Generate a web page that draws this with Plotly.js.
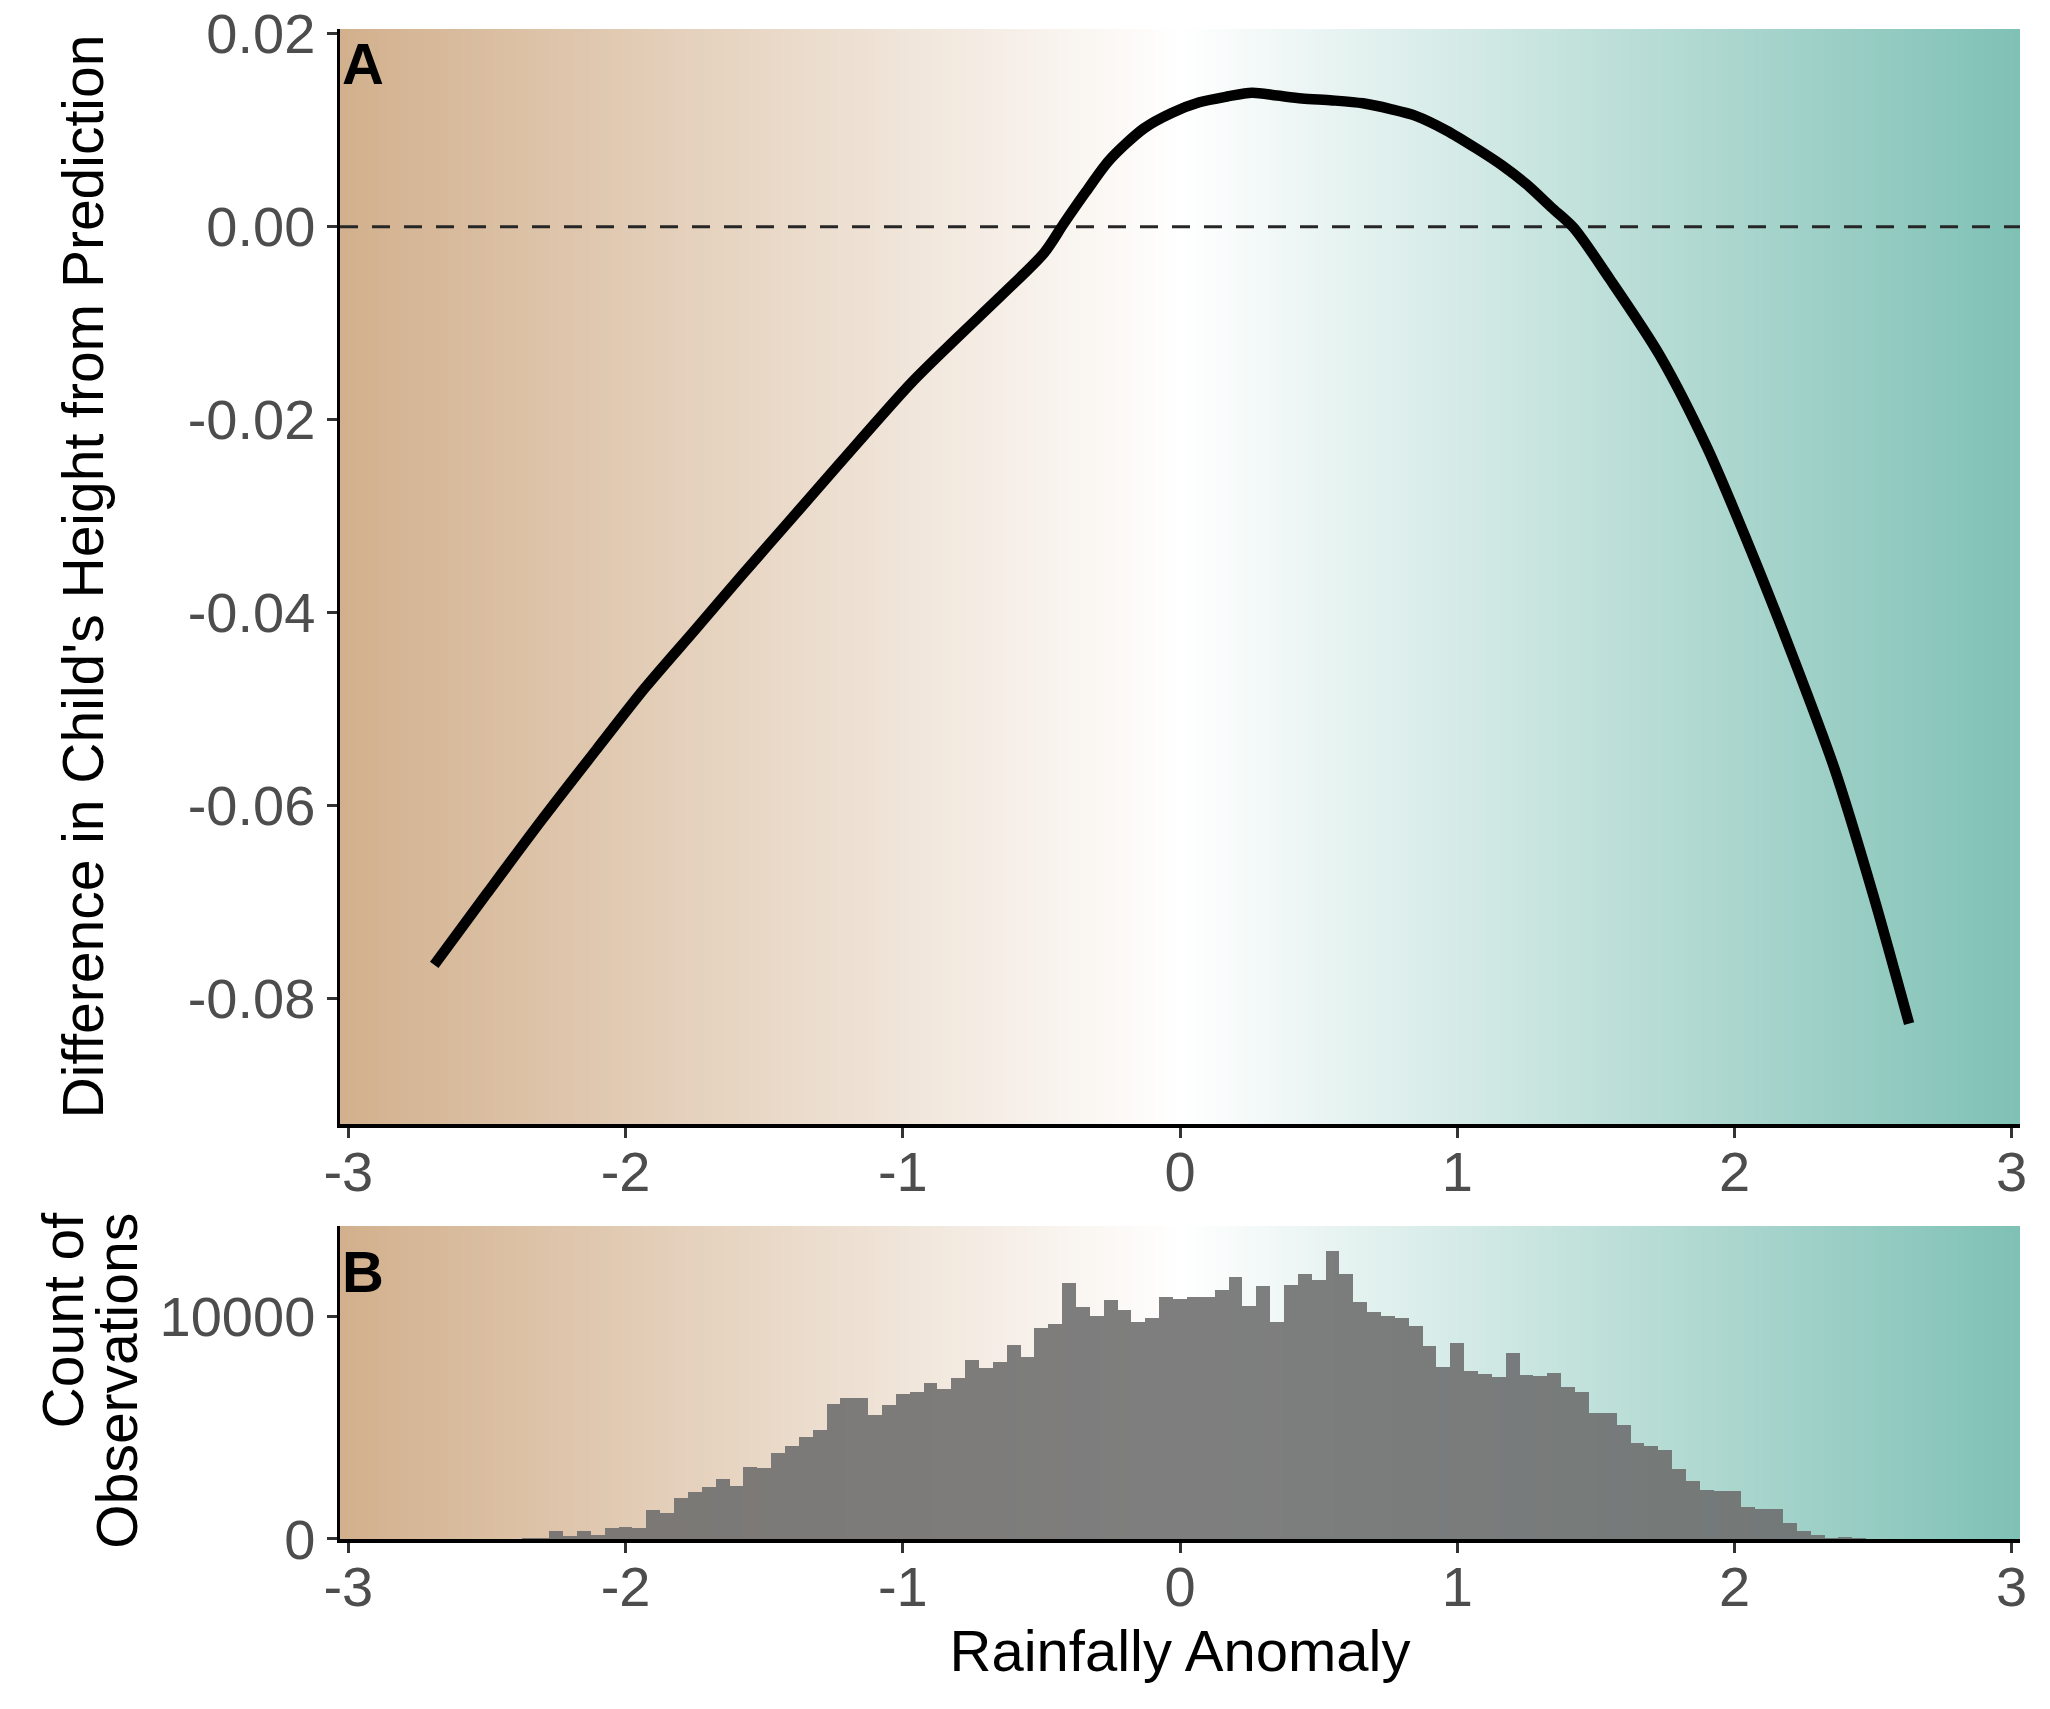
<!DOCTYPE html>
<html>
<head>
<meta charset="utf-8">
<script src="https://cdn.plot.ly/plotly-3.0.1.min.js"></script>
<style>
  html, body { margin: 0; padding: 0; background: #ffffff; }
  #chart { width: 2050px; height: 1709px; }
</style>
</head>
<body>
<div id="chart"></div>
<script>
// ---------------- data ----------------
// Panel A: smoothed difference in child's height vs rainfall anomaly
const curveX = [-2.69, -2.50, -2.30, -2.10, -1.93, -1.75, -1.58, -1.40, -1.23, -0.97, -0.80, -0.64, -0.49, -0.42, -0.34, -0.255, -0.13, -0.03, 0.07, 0.17, 0.26, 0.35, 0.44, 0.55, 0.66, 0.76, 0.85, 0.96, 1.07, 1.16, 1.25, 1.34, 1.42, 1.55, 1.73, 1.90, 2.06, 2.21, 2.36, 2.50, 2.63];
const curveY = [-0.0765, -0.0691, -0.0614, -0.0540, -0.0478, -0.0418, -0.0361, -0.0302, -0.0246, -0.0162, -0.0114, -0.0070, -0.0027, 0.0003, 0.0036, 0.0069, 0.0102, 0.0118, 0.0129, 0.0135, 0.0139, 0.0136, 0.0133, 0.0131, 0.0128, 0.0122, 0.0115, 0.0100, 0.0081, 0.0064, 0.0044, 0.0020, -0.0001, -0.0054, -0.0133, -0.0228, -0.0336, -0.0445, -0.0561, -0.0692, -0.0826];

// Panel B: histogram of observations (bin width 0.05, bin centres)
const binCenters = [-2.35, -2.30, -2.25, -2.20, -2.15, -2.10, -2.05, -2.00, -1.95, -1.90, -1.85, -1.80, -1.75, -1.70, -1.65, -1.60, -1.55, -1.50, -1.45, -1.40, -1.35, -1.30, -1.25, -1.20, -1.15, -1.10, -1.05, -1.00, -0.95, -0.90, -0.85, -0.80, -0.75, -0.70, -0.65, -0.60, -0.55, -0.50, -0.45, -0.40, -0.35, -0.30, -0.25, -0.20, -0.15, -0.10, -0.05, 0.00, 0.05, 0.10, 0.15, 0.20, 0.25, 0.30, 0.35, 0.40, 0.45, 0.50, 0.55, 0.60, 0.65, 0.70, 0.75, 0.80, 0.85, 0.90, 0.95, 1.00, 1.05, 1.10, 1.15, 1.20, 1.25, 1.30, 1.35, 1.40, 1.45, 1.50, 1.55, 1.60, 1.65, 1.70, 1.75, 1.80, 1.85, 1.90, 1.95, 2.00, 2.05, 2.10, 2.15, 2.20, 2.25, 2.30, 2.35, 2.40, 2.45];
const binCounts = [50, 50, 345, 120, 345, 195, 480, 540, 480, 1290, 1155, 1830, 2100, 2330, 2690, 2370, 3230, 3185, 3860, 4175, 4580, 4900, 6070, 6340, 6340, 5570, 6020, 6520, 6610, 7010, 6745, 7240, 8050, 7690, 7960, 8730, 8190, 9490, 9630, 11480, 10400, 10030, 10710, 10260, 9760, 9940, 10840, 10750, 10840, 10840, 11160, 11745, 10440, 11340, 9760, 11385, 11880, 11610, 12920, 11880, 10620, 10170, 10030, 9940, 9580, 8680, 7735, 8815, 7555, 7420, 7285, 8365, 7375, 7330, 7465, 6835, 6610, 5660, 5660, 5120, 4310, 4175, 3995, 3140, 2600, 2195, 2150, 2150, 1430, 1340, 1340, 705, 345, 165, 45, 75, 30];
const binWidth = 0.05;

// Axis ticks
const xTickVals = [-3, -2, -1, 0, 1, 2, 3];
const xTickText = ["-3", "-2", "-1", "0", "1", "2", "3"];
const yTickVals = [-0.08, -0.06, -0.04, -0.02, 0.00, 0.02];
const yTickText = ["-0.08", "-0.06", "-0.04", "-0.02", "0.00", "0.02"];
const y2TickVals = [0, 10000];
const y2TickText = ["0", "10000"];

// Reference line
const refLineY = 0;

// ---------------- styling ----------------
const xRange = [-3.03, 3.03];
const yRange = [-0.093, 0.0205];
const y2Range = [0, 14050];
const FONT = "Liberation Sans, Arial, Helvetica, sans-serif";
const gradScale = [[0, "#D2B08D"], [0.5, "#FFFFFF"], [1, "#7FC1B5"]];

// background gradient (decoration): columns spanning the x range
const gradN = 400;
const gradEdges = [];
for (let i = 0; i <= gradN; i++) gradEdges.push(xRange[0] + (xRange[1] - xRange[0]) * i / gradN);
const gradZ = [[]];
for (let i = 0; i < gradN; i++) gradZ[0].push((gradEdges[i] + gradEdges[i + 1]) / 2);

function gradTrace(xa, ya, yr) {
  return {
    type: "heatmap", xaxis: xa, yaxis: ya,
    x: gradEdges, y: [yr[0], yr[1]], z: gradZ,
    zmin: xRange[0], zmax: xRange[1], colorscale: gradScale,
    showscale: false, hoverinfo: "skip", zsmooth: "best"
  };
}

const traces = [
  gradTrace("x", "y", yRange),
  gradTrace("x2", "y2", y2Range),
  {
    type: "scatter", mode: "lines", xaxis: "x", yaxis: "y",
    x: [xRange[0], xRange[1]], y: [refLineY, refLineY],
    line: { color: "#262626", width: 3, dash: "18px,14px" },
    hoverinfo: "skip", showlegend: false
  },
  {
    type: "scatter", mode: "lines", xaxis: "x", yaxis: "y",
    x: curveX, y: curveY,
    line: { color: "#000000", width: 10.5, shape: "spline", smoothing: 0.8 },
    showlegend: false
  },
  {
    type: "bar", xaxis: "x2", yaxis: "y2",
    x: binCenters, y: binCounts, width: binWidth,
    marker: { color: "rgba(108,108,108,0.88)", line: { width: 0 } },
    showlegend: false
  }
];

const tickFont = { family: FONT, size: 56, color: "#4D4D4D" };
const baseAxis = {
  showline: true, linecolor: "#000000", linewidth: 3.5,
  ticks: "outside", ticklen: 10, tickwidth: 3, tickcolor: "#333333",
  showgrid: false, zeroline: false, tickfont: tickFont, fixedrange: true,
  ticklabeloverflow: "allow"
};

const layout = {
  width: 2050, height: 1709,
  margin: { l: 340, r: 30, t: 29, b: 170 },
  paper_bgcolor: "#ffffff", plot_bgcolor: "#ffffff",
  showlegend: false, bargap: 0,
  font: { family: FONT, color: "#000000" },
  xaxis: Object.assign({}, baseAxis, {
    domain: [0, 1], anchor: "y", range: xRange,
    tickmode: "array", tickvals: xTickVals, ticktext: xTickText,
    ticklabelstandoff: -14
  }),
  yaxis: Object.assign({}, baseAxis, {
    domain: [0.2748, 1], anchor: "x", range: yRange,
    tickmode: "array", tickvals: yTickVals, ticktext: yTickText,
    title: { text: "Difference in Child's Height from Prediction", font: { family: FONT, size: 57, color: "#000000" }, standoff: 66 }
  }),
  xaxis2: Object.assign({}, baseAxis, {
    domain: [0, 1], anchor: "y2", range: xRange,
    tickmode: "array", tickvals: xTickVals, ticktext: xTickText,
    ticklabelstandoff: -14,
    title: { text: "Rainfally Anomaly", font: { family: FONT, size: 58, color: "#000000" }, standoff: 10 }
  }),
  yaxis2: Object.assign({}, baseAxis, {
    domain: [0, 0.2073], anchor: "x2", range: y2Range,
    tickmode: "array", tickvals: y2TickVals, ticktext: y2TickText
  }),
  annotations: [
    { text: "<b>A</b>", xref: "paper", yref: "paper", x: 0, y: 1, xanchor: "left", yanchor: "top",
      showarrow: false, font: { family: FONT, size: 58, color: "#000000" } },
    { text: "<b>B</b>", xref: "paper", yref: "paper", x: 0, y: 0.200, xanchor: "left", yanchor: "top",
      showarrow: false, font: { family: FONT, size: 58, color: "#000000" } },
    { text: "Count of", xref: "paper", yref: "paper", x: -0.1650, y: 0.2175, xanchor: "center", yanchor: "top",
      textangle: -90, showarrow: false, font: { family: FONT, size: 57, color: "#000000" } },
    { text: "Observations", xref: "paper", yref: "paper", x: -0.1327, y: 0.2175, xanchor: "center", yanchor: "top",
      textangle: -90, showarrow: false, font: { family: FONT, size: 57, color: "#000000" } }
  ]
};

Plotly.newPlot("chart", traces, layout, { displayModeBar: false, staticPlot: true });
</script>
</body>
</html>
